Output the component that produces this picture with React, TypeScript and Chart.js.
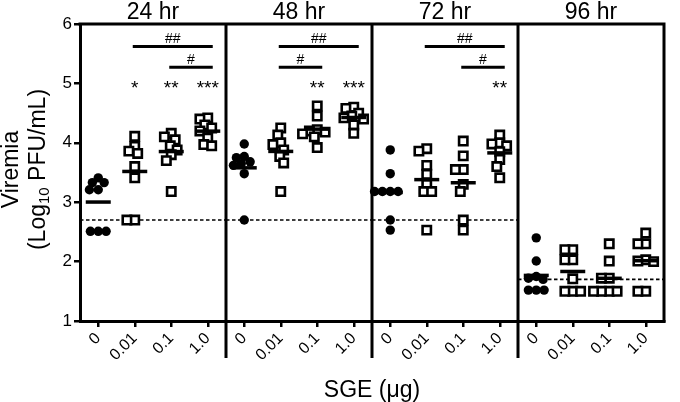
import React, { useEffect, useRef } from "react";
import { Chart, registerables } from "chart.js";
Chart.register(...registerables);

const FONT = "'Liberation Sans', Arial, Helvetica, sans-serif";

const panelTitles = ["24 hr", "48 hr", "72 hr", "96 hr"];
const doseLabels = ["0", "0.01", "0.1", "1.0"];
const yTicks = [1, 2, 3, 4, 5, 6];

// Viremia values (log10 PFU/mL) per time point and SGE dose
const hr24_0 = [3.41, 3.33, 3.33, 3.21, 3.21, 2.51, 2.51, 2.51];
const hr24_001 = [4.11, 3.94, 3.86, 3.82, 3.6, 3.41, 2.7, 2.7];
const hr24_01 = [4.16, 4.1, 4.05, 3.95, 3.88, 3.8, 3.7, 3.18];
const hr24_1 = [4.42, 4.4, 4.3, 4.25, 4.2, 4.08, 3.97, 3.95];

const hr48_0 = [3.98, 3.77, 3.75, 3.68, 3.65, 3.62, 3.48, 2.7];
const hr48_001 = [4.25, 4.13, 4.0, 3.97, 3.88, 3.77, 3.66, 3.18];
const hr48_01 = [4.62, 4.45, 4.22, 4.2, 4.18, 4.15, 4.1, 3.92];
const hr48_1 = [4.6, 4.58, 4.5, 4.45, 4.42, 4.4, 4.3, 4.16];

const hr72_0 = [3.88, 3.48, 3.18, 3.18, 3.18, 3.18, 2.7, 2.53];
const hr72_001 = [3.9, 3.86, 3.62, 3.47, 3.3, 3.18, 3.18, 2.53];
const hr72_01 = [4.03, 3.78, 3.55, 3.55, 3.3, 3.18, 2.7, 2.53];
const hr72_1 = [4.13, 4.0, 3.98, 3.95, 3.85, 3.72, 3.6, 3.41];

const hr96_0 = [2.4, 2.01, 1.75, 1.72, 1.7, 1.52, 1.52, 1.52];
const hr96_001 = [2.2, 2.2, 2.03, 2.03, 1.71, 1.5, 1.5, 1.5];
const hr96_01 = [2.3, 2.01, 1.72, 1.72, 1.5, 1.5, 1.5, 1.5];
const hr96_1 = [2.48, 2.3, 2.3, 2.03, 2.01, 2.0, 1.5, 1.5];

const groups = [
  hr24_0, hr24_001, hr24_01, hr24_1,
  hr48_0, hr48_001, hr48_01, hr48_1,
  hr72_0, hr72_001, hr72_01, hr72_1,
  hr96_0, hr96_001, hr96_01, hr96_1,
];

// limit of detection per panel
const lodLevels = [2.7, 2.7, 2.7, 1.7];

// significance marks vs. control
const starPanel = [0, 0, 0, 1, 1, 2];
const starDose = [1, 2, 3, 2, 3, 3];
const starText = ["*", "**", "***", "**", "***", "**"];
const starLevel = 5.0;

// comparison brackets
const bracketPanel = [0, 0, 1, 1, 2, 2];
const bracketFrom = [1, 2, 1, 1, 1, 2];
const bracketTo = [3, 3, 3, 2, 3, 3];
const bracketLevel = [5.62, 5.27, 5.62, 5.27, 5.62, 5.27];
const bracketText = ["##", "#", "##", "#", "##", "#"];

// swarm layout (pixel-based spreading of overlapping markers)
const PX_X = 595 / 16;
const PX_Y = 297 / 5;
const DIAM = 7.6;
const STEP = 1;

function swarm(vals: number[]): number[] {
  const placed: [number, number][] = [];
  const order = vals.map((_, i) => i).sort((a, b) => vals[b] - vals[a]);
  const offs = new Array(vals.length).fill(0);
  for (const i of order) {
    const py = vals[i] * PX_Y;
    let chosen = 0;
    for (let k = 0; k < 80; k++) {
      const s = k === 0 ? 0 : (k % 2 === 1 ? -1 : 1) * Math.ceil(k / 2) * STEP;
      if (placed.every(([qx, qy]) => (qx - s) ** 2 + (qy - py) ** 2 >= DIAM * DIAM)) {
        chosen = s;
        break;
      }
    }
    placed.push([chosen, py]);
    offs[i] = chosen / PX_X;
  }
  return offs;
}

const mean = (a: number[]) => a.reduce((s, v) => s + v, 0) / a.length;

const decorPlugin = {
  id: "decor",
  beforeDatasetsDraw(chart: any) {
    const { ctx, scales } = chart;
    const x = scales.x, y = scales.y;
    ctx.save();
    ctx.setLineDash([3.5, 2.5]);
    ctx.lineWidth = 1.6;
    ctx.strokeStyle = "#000";
    lodLevels.forEach((v, i) => {
      const x0 = x.getPixelForValue(i * 4 - 0.5);
      const x1 = x.getPixelForValue(i * 4 + 3.5);
      const py = y.getPixelForValue(v);
      ctx.beginPath();
      ctx.moveTo(x0, py);
      ctx.lineTo(x1, py);
      ctx.stroke();
    });
    ctx.restore();
  },
  afterDraw(chart: any) {
    const { ctx, chartArea: a, scales } = chart;
    const x = scales.x, y = scales.y;
    ctx.save();
    ctx.strokeStyle = "#000";
    ctx.fillStyle = "#000";
    ctx.lineWidth = 3;
    ctx.lineCap = "butt";
    // top and right frame
    ctx.beginPath();
    ctx.moveTo(a.left - 1.5, a.top);
    ctx.lineTo(a.right + 1.5, a.top);
    ctx.moveTo(a.right, a.top);
    ctx.lineTo(a.right, a.bottom + 1.5);
    ctx.stroke();
    // panel dividers
    for (let i = 1; i < 4; i++) {
      const px = x.getPixelForValue(i * 4 - 0.5);
      ctx.beginPath();
      ctx.moveTo(px, a.top);
      ctx.lineTo(px, a.bottom + 37);
      ctx.stroke();
    }
    // panel titles
    ctx.font = `23px ${FONT}`;
    ctx.textAlign = "center";
    ctx.textBaseline = "alphabetic";
    panelTitles.forEach((t, i) => {
      const cx = (x.getPixelForValue(i * 4 - 0.5) + x.getPixelForValue(i * 4 + 3.5)) / 2;
      ctx.fillText(t, cx, 19);
    });
    // x title
    ctx.fillText("SGE (\u03bcg)", (a.left + a.right) / 2, 397);
    // y title
    const cy = (a.top + a.bottom) / 2 - 3;
    ctx.save();
    ctx.translate(18, cy);
    ctx.rotate(-Math.PI / 2);
    ctx.textAlign = "center";
    ctx.fillText("Viremia", 0, 0);
    ctx.restore();
    ctx.save();
    ctx.translate(45, cy);
    ctx.rotate(-Math.PI / 2);
    const big = `23px ${FONT}`;
    const small = `15px ${FONT}`;
    const parts: [string, string, number][] = [
      ["(Log", big, 0],
      ["10", small, 4],
      [" PFU/mL)", big, 0],
    ];
    let total = 0;
    parts.forEach(([t, f]) => {
      ctx.font = f;
      total += ctx.measureText(t).width;
    });
    let cur = -total / 2;
    ctx.textAlign = "left";
    parts.forEach(([t, f, dy]) => {
      ctx.font = f;
      ctx.fillText(t, cur, dy);
      cur += ctx.measureText(t).width;
    });
    ctx.restore();
    // stars
    ctx.font = `19px ${FONT}`;
    ctx.textAlign = "center";
    starText.forEach((t, i) => {
      const px = x.getPixelForValue(starPanel[i] * 4 + starDose[i]);
      ctx.fillText(t, px, y.getPixelForValue(starLevel) + 10.5);
    });
    // brackets
    ctx.font = `14px ${FONT}`;
    bracketText.forEach((t, i) => {
      const x0 = x.getPixelForValue(bracketPanel[i] * 4 + bracketFrom[i]) - 2;
      const x1 = x.getPixelForValue(bracketPanel[i] * 4 + bracketTo[i]) + 5;
      const py = y.getPixelForValue(bracketLevel[i]);
      ctx.lineWidth = 3;
      ctx.beginPath();
      ctx.moveTo(x0, py);
      ctx.lineTo(x1, py);
      ctx.stroke();
      ctx.fillText(t, (x0 + x1) / 2, py - 3.5);
    });
    ctx.restore();
  },
};

export default function App() {
  const ref = useRef<HTMLCanvasElement>(null);
  useEffect(() => {
    if (!ref.current) return;
    const filled: { x: number; y: number }[] = [];
    const open: { x: number; y: number }[] = [];
    const means: { x: number; y: number }[] = [];
    groups.forEach((vals, gi) => {
      const offs = swarm(vals);
      const dose = gi % 4;
      vals.forEach((v, j) => {
        const pt = { x: gi + offs[j], y: v };
        if (dose === 0) filled.push(pt);
        else open.push(pt);
      });
      means.push({ x: gi, y: mean(vals) });
    });
    const chart = new Chart(ref.current, {
      type: "scatter",
      data: {
        datasets: [
          {
            data: means,
            pointStyle: "line",
            pointRadius: 12.5,
            borderWidth: 3.5,
            borderColor: "#000",
            backgroundColor: "#000",
          } as any,
          {
            data: open,
            pointStyle: "rect",
            pointRadius: 5.9,
            borderWidth: 2.6,
            borderColor: "#000",
            backgroundColor: "#fff",
          } as any,
          {
            data: filled,
            pointStyle: "circle",
            pointRadius: 4.7,
            borderWidth: 0,
            borderColor: "#000",
            backgroundColor: "#000",
          } as any,
        ],
      },
      options: {
        animation: false,
        responsive: false,
        events: [],
        layout: { padding: { top: 24, right: 5, left: 0, bottom: 0 } },
        plugins: { legend: { display: false }, tooltip: { enabled: false } },
        scales: {
          x: {
            type: "linear",
            min: -0.5,
            max: 15.5,
            afterBuildTicks: (s: any) => {
              s.ticks = groups.map((_, i) => ({ value: i }));
            },
            afterFit: (s: any) => {
              s.height = 81;
            },
            ticks: {
              autoSkip: false,
              minRotation: 45,
              maxRotation: 45,
              padding: 2,
              color: "#000",
              font: { size: 16, family: FONT },
              callback: (_v: any, i: number) => doseLabels[i % 4],
            },
            grid: { drawOnChartArea: false, drawTicks: true, tickLength: 6, lineWidth: 2.5, color: "#000" },
            border: { display: true, width: 3, color: "#000" },
          },
          y: {
            min: 1,
            max: 6,
            afterBuildTicks: (s: any) => {
              s.ticks = yTicks.map((v) => ({ value: v }));
            },
            afterFit: (s: any) => {
              s.width = 80;
            },
            ticks: {
              padding: 2,
              color: "#000",
              font: { size: 17, family: FONT },
            },
            grid: { drawOnChartArea: false, drawTicks: true, tickLength: 6, lineWidth: 2.5, color: "#000" },
            border: { display: true, width: 3, color: "#000" },
          },
        },
      } as any,
      plugins: [decorPlugin],
    });
    return () => chart.destroy();
  }, []);
  return (
    <div style={{ position: "fixed", left: 0, top: 0, width: 680, height: 402, background: "#fff" }}>
      <canvas ref={ref} width={680} height={402} style={{ width: 680, height: 402, display: "block" }} />
    </div>
  );
}
